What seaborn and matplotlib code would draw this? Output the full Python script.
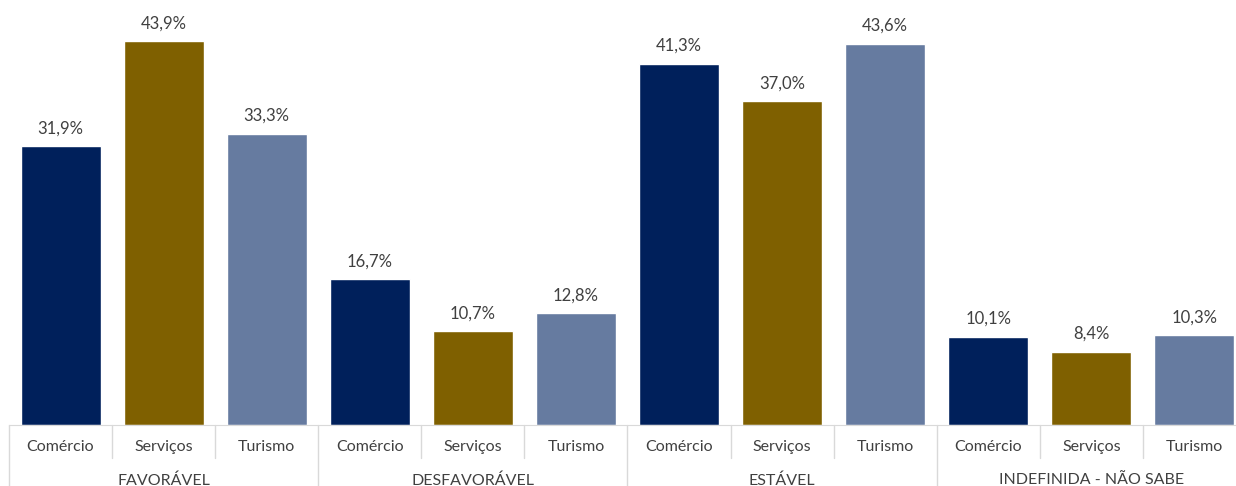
import pandas as pd
import numpy as np
import seaborn as sns
import matplotlib.pyplot as plt

# dados
grupos = ["FAVORÁVEL", "DESFAVORÁVEL", "ESTÁVEL", "INDEFINIDA - NÃO SABE"]
setores = ["Comércio", "Serviços", "Turismo"]
comercio = [31.9, 16.7, 41.3, 10.1]
servicos = [43.9, 10.7, 37.0, 8.4]
turismo = [33.3, 12.8, 43.6, 10.3]
cores = ["#00205B", "#7F6000", "#667BA0"]

rows = []
for i, g in enumerate(grupos):
    for s, vals in zip(setores, [comercio, servicos, turismo]):
        rows.append({"grupo": g, "setor": s, "valor": vals[i], "chave": g + "|" + s})
df = pd.DataFrame(rows)

sns.set_style("white")
plt.rcParams["font.family"] = ["Lato", "DejaVu Sans"]

fig = plt.figure(figsize=(12.36, 4.86), dpi=100)
# o eixo passa um pouco da borda direita, como no original
ax = fig.add_axes([9 / 1236, 61 / 486, 1237 / 1236, 425 / 486])

sns.barplot(data=df, x="chave", y="valor", hue="setor", palette=cores,
            order=df["chave"], dodge=False, width=0.776, legend=False, ax=ax,
            saturation=1)

ax.set_ylim(0, 48.6)
ax.set_xlim(-0.5, 11.5)
ax.set_yticks([])
ax.set_ylabel("")
ax.set_xlabel("")
for sp in ["top", "right", "left"]:
    ax.spines[sp].set_visible(False)
ax.spines["bottom"].set_color("#D9D9D9")

ax.set_xticks(range(len(df)))
ax.set_xticklabels(df["setor"], fontsize=11.5, color="#404040")
ax.tick_params(axis="x", length=0, pad=11)

for i, v in enumerate(df["valor"]):
    ax.annotate(f"{v:.1f}%".replace(".", ","), (i, v), xytext=(0, 7),
                textcoords="offset points", ha="center", va="bottom",
                fontsize=12, color="#404040")

trans = ax.get_xaxis_transform()
for k in range(len(df) + 1):
    x = k - 0.5
    y0 = -0.1435 if k % 3 == 0 else -0.0776
    ax.plot([x, x], [0, y0], color="#D9D9D9", lw=1, transform=trans, clip_on=False)

for j, g in enumerate(grupos):
    ax.text(3 * j + 1, -0.13, g, transform=trans, ha="center", va="center",
            fontsize=11.5, color="#404040")

fig.savefig("out.png", dpi=100)
